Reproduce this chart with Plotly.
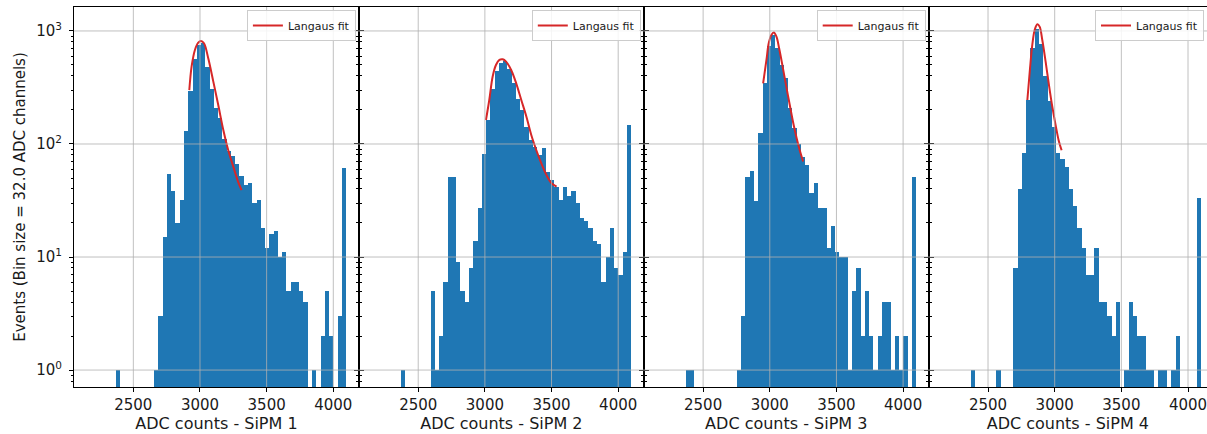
import plotly.graph_objects as go

# ---------------- data ----------------
BIN_START = 2368          # first bin's lower edge (ADC counts)
BIN_WIDTH = 32            # ADC channels per bin
N_BINS = 54               # bins up to 4064..4096

counts_sipm1 = [1, 0, 0, 0, 0, 0, 0, 0, 0, 1,
                3, 15, 54, 38, 20, 32, 130, 294, 561, 752,
                789, 483, 305, 207, 169, 110, 86, 78, 67, 52,
                43, 45, 30, 32, 18, 12, 16, 17, 10, 11,
                5, 6, 6, 5, 4, 0, 1, 0, 2, 5,
                2, 0, 3, 61]

counts_sipm2 = [1, 0, 0, 0, 0, 0, 0, 5, 1, 2,
                6, 51, 51, 9, 5, 4, 8, 14, 27, 82,
                163, 305, 446, 525, 546, 460, 349, 248, 200, 140,
                108, 95, 80, 93, 57, 48, 42, 32, 42, 35,
                38, 30, 22, 21, 18, 14, 13, 6, 10, 18,
                8, 7, 11, 147]

counts_sipm3 = [1, 1, 0, 0, 0, 0, 0, 0, 0, 0,
                0, 0, 1, 3, 51, 58, 31, 126, 344, 737,
                922, 700, 500, 381, 207, 138, 100, 77, 65, 37,
                45, 27, 27, 12, 19, 11, 10, 10, 1, 5,
                8, 2, 5, 2, 1, 2, 4, 4, 1, 2,
                1, 2, 0, 51]

counts_sipm4 = [1, 0, 0, 0, 0, 0, 1, 0, 0, 0,
                8, 40, 84, 245, 703, 1050, 760, 400, 240, 140,
                83, 74, 63, 40, 28, 18, 12, 7, 7, 12,
                4, 4, 3, 2, 4, 0, 1, 4, 3, 2,
                2, 1, 1, 0, 1, 1, 0, 1, 2, 0,
                0, 0, 0, 33]

fit_x_sipm1 = [2920, 2937, 2962, 2987, 3007, 3030, 3062, 3100, 3137, 3175, 3212, 3250, 3287, 3312]
fit_y_sipm1 = [300, 483, 679, 788, 816, 778, 573, 356, 221, 133, 88, 63, 46, 39]

fit_x_sipm2 = [3008, 3033, 3058, 3083, 3109, 3134, 3159, 3197, 3235, 3273, 3311, 3348, 3386, 3424, 3462, 3500, 3538]
fit_y_sipm2 = [163, 245, 394, 500, 554, 561, 535, 452, 344, 245, 175, 120, 88, 67, 53, 45, 42]

fit_x_sipm3 = [2950, 2975, 2992, 3012, 3030, 3050, 3070, 3092, 3117, 3150, 3182, 3217, 3250]
fit_y_sipm3 = [344, 554, 778, 922, 967, 891, 703, 517, 356, 221, 142, 95, 70]

fit_x_sipm4 = [2795, 2815, 2832, 2850, 2870, 2887, 2907, 2932, 2957, 2982, 3007, 3032, 3052]
fit_y_sipm4 = [245, 467, 752, 1021, 1145, 1092, 832, 535, 333, 214, 147, 105, 88]

panel_titles = ["ADC counts - SiPM 1", "ADC counts - SiPM 2",
                "ADC counts - SiPM 3", "ADC counts - SiPM 4"]
y_title = "Events (Bin size = 32.0 ADC channels)"
legend_label = "Langaus fit"

x_tick_vals = [2500, 3000, 3500, 4000]
y_tick_vals = [1, 10, 100, 1000]
y_tick_text = ["10<sup>0</sup>", "10<sup>1</sup>", "10<sup>2</sup>", "10<sup>3</sup>"]
y_minor_vals = [m * 10 ** k for k in range(-1, 4) for m in range(2, 10)]

# ---------------- style / layout ----------------
BAR_COLOR = "#1f77b4"
FIT_COLOR = "#d62728"
GRID_COLOR = "#b0b0b0"
TEXT_COLOR = "#1a1a1a"
FONT = "DejaVu Sans"

W, H = 1207, 434
ML, MR, MT, MB = 74, 0, 7, 47
panel_px = 284.9
plot_w = W - ML - MR
x_full_range = [2055, 4192]
px_per_unit = panel_px / (x_full_range[1] - x_full_range[0])
y_range_log = [-0.150, 3.212]

all_counts = [counts_sipm1, counts_sipm2, counts_sipm3, counts_sipm4]
all_fit = [(fit_x_sipm1, fit_y_sipm1), (fit_x_sipm2, fit_y_sipm2),
           (fit_x_sipm3, fit_y_sipm3), (fit_x_sipm4, fit_y_sipm4)]

bin_centers = [BIN_START + BIN_WIDTH * (i + 0.5) for i in range(N_BINS)]

fig = go.Figure()
layout = {}
shapes = []

for i in range(4):
    n = i + 1
    sfx = "" if n == 1 else str(n)
    x0 = i * panel_px / plot_w
    x1 = min(1.0, (i + 1) * panel_px / plot_w)
    visible_px = (x1 - x0) * plot_w
    xr = [x_full_range[0], x_full_range[0] + visible_px / px_per_unit]

    counts = all_counts[i]
    fig.add_trace(go.Bar(
        x=bin_centers, y=[c if c > 0 else None for c in counts],
        width=BIN_WIDTH, marker=dict(color=BAR_COLOR, line=dict(width=0)),
        xaxis="x" + sfx, yaxis="y" + sfx, showlegend=False, hoverinfo="skip"))

    fx, fy = all_fit[i]
    fig.add_trace(go.Scatter(
        x=fx, y=fy, mode="lines", name=legend_label,
        line=dict(color=FIT_COLOR, width=2, shape="spline", smoothing=1.0),
        xaxis="x" + sfx, yaxis="y" + sfx, legend="legend" + sfx,
        showlegend=True))

    layout["xaxis" + sfx] = dict(
        domain=[x0, x1], range=xr, anchor="y" + sfx,
        tickmode="array", tickvals=x_tick_vals,
        ticks="outside", ticklen=4, tickwidth=1, tickcolor="black",
        showline=True, linecolor="black", linewidth=1, mirror=True,
        showgrid=False, zeroline=False,
        tickfont=dict(size=15, color=TEXT_COLOR, family=FONT),
        ticklabeloverflow="allow",
        title=dict(text=panel_titles[i], font=dict(size=16, color=TEXT_COLOR, family=FONT),
                   standoff=3),
        automargin=False)

    layout["yaxis" + sfx] = dict(
        type="log", range=y_range_log, domain=[0, 1], anchor="x" + sfx,
        tickmode="array", tickvals=y_tick_vals, ticktext=y_tick_text,
        showticklabels=(n == 1),
        ticks="outside", ticklen=4, tickwidth=1, tickcolor="black",
        minor=dict(tickmode="array", tickvals=y_minor_vals, ticks="outside",
                   ticklen=2, tickwidth=0.8, tickcolor="black", showgrid=False),
        showline=True, linecolor="black", linewidth=1,
        mirror=("ticks" if n < 4 else False),
        showgrid=False, zeroline=False,
        tickfont=dict(size=15, color=TEXT_COLOR, family=FONT),
        ticklabelstandoff=4,
        automargin=False)
    if n == 1:
        layout["yaxis"]["title"] = dict(text=y_title, font=dict(size=15, color=TEXT_COLOR, family=FONT),
                                        standoff=6)

    # grid lines drawn above the bars (as in matplotlib)
    for xv in x_tick_vals:
        if xr[0] < xv < xr[1]:
            shapes.append(dict(type="line", xref="x" + sfx, yref="y" + sfx + " domain",
                               x0=xv, x1=xv, y0=0, y1=1, layer="above",
                               line=dict(color=GRID_COLOR, width=0.8)))
    for yv in y_tick_vals:
        shapes.append(dict(type="line", xref="x" + sfx + " domain", yref="y" + sfx,
                           x0=0, x1=1, y0=yv, y1=yv, layer="above",
                           line=dict(color=GRID_COLOR, width=0.8)))

    # legend in the upper-right corner of each panel
    right_px = min((i + 1) * panel_px, plot_w) - 3
    layout["legend" + sfx] = dict(
        x=right_px / plot_w, y=1 - 3 / (H - MT - MB), xref="paper", yref="paper",
        xanchor="right", yanchor="top",
        bgcolor="rgba(255,255,255,0.85)", bordercolor="#cccccc", borderwidth=1,
        font=dict(size=11, color=TEXT_COLOR, family=FONT),
        itemwidth=30, tracegroupgap=0)

fig.update_layout(**layout)
fig.update_layout(
    width=W, height=H,
    margin=dict(l=ML, r=MR, t=MT, b=MB, pad=0),
    paper_bgcolor="white", plot_bgcolor="white",
    font=dict(family=FONT, color=TEXT_COLOR),
    shapes=shapes, bargap=0, barmode="overlay")

fig.write_html("out.html")
